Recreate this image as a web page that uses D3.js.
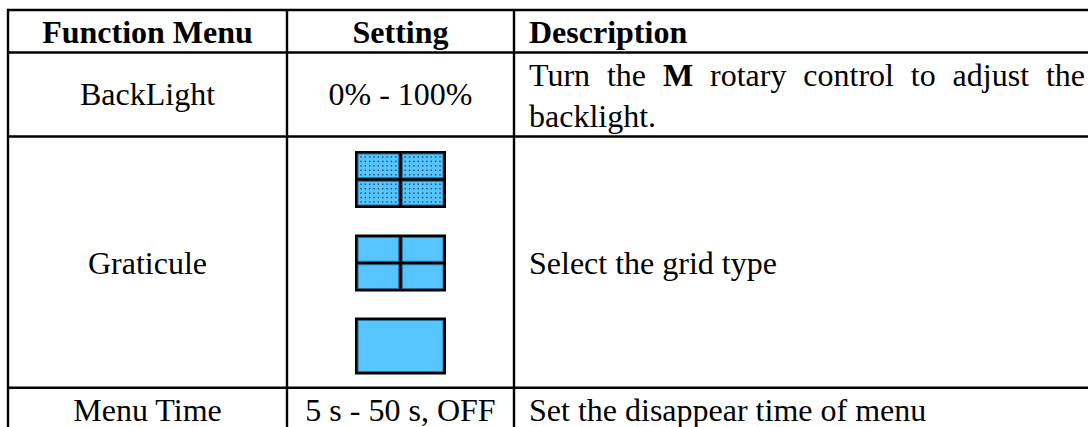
<!DOCTYPE html>
<html>
<head>
<meta charset="utf-8">
<script src="https://cdn.jsdelivr.net/npm/d3@7"></script>
<style>
html, body { margin: 0; padding: 0; background: #fff; }
svg { display: block; }
text { font-family: "Liberation Serif", serif; fill: #000; }
</style>
</head>
<body>
<svg id="drawing_region"></svg>
<script>
const headers = ["Function Menu", "Setting", "Description"];
const functionMenu = ["BackLight", "Graticule", "Menu Time"];
const settings = ["0% - 100%", "", "5 s - 50 s, OFF"];
const descFirst = [["Turn", false], ["the", false], ["M", true], ["rotary", false], ["control", false], ["to", false], ["adjust", false], ["the", false]];
const descRest = ["backlight.", "Select the grid type", "Set the disappear time of menu"];
const gridTypes = ["full", "lines", "none"];

const width = 1088, height = 427;
const fontSize = 32;
// table rules
const xs = [8, 287, 514];
const ys = [10, 52.5, 136.5, 387.8];

const svg = d3.select("#drawing_region").attr("width", width).attr("height", height);

const lines = svg.append("g").attr("stroke", "#000").attr("stroke-width", 2.4);
ys.forEach(y => lines.append("line").attr("x1", xs[0]-1).attr("x2", width).attr("y1", y).attr("y2", y));
xs.forEach(x => lines.append("line").attr("x1", x).attr("x2", x).attr("y1", ys[0]-1).attr("y2", height));

// header
const col1 = (xs[0]+xs[1])/2, col2 = (xs[1]+xs[2])/2, col3 = 529;
svg.append("g").selectAll("text").data(headers).enter().append("text")
    .attr("x", (d,i) => [col1, col2, col3][i])
    .attr("y", 42.5)
    .attr("text-anchor", (d,i) => i < 2 ? "middle" : "start")
    .attr("font-size", fontSize)
    .attr("font-weight", "bold")
    .text(d => d);

// body columns
const rowY = [105, 274, 421];
svg.append("g").selectAll("text").data(functionMenu).enter().append("text")
    .attr("x", col1).attr("y", (d,i) => rowY[i])
    .attr("text-anchor", "middle").attr("font-size", fontSize).text(d => d);
svg.append("g").selectAll("text").data(settings).enter().append("text")
    .attr("x", col2).attr("y", (d,i) => rowY[i])
    .attr("text-anchor", "middle").attr("font-size", fontSize).text(d => d);

// justified first line of the description, word by word
const first = svg.append("g").selectAll("text").data(descFirst).enter().append("text")
    .attr("y", 85.5)
    .attr("font-size", fontSize)
    .attr("font-weight", d => d[1] ? "bold" : "normal")
    .text(d => d[0]);
const wordW = first.nodes().map(n => n.getComputedTextLength());
const gap = (1085 - col3 - d3.sum(wordW)) / (wordW.length - 1);
let cursor = col3;
first.attr("x", (d,i) => { const x = cursor; cursor += wordW[i] + gap; return x; });

svg.append("g").selectAll("text").data(descRest).enter().append("text")
    .attr("x", col3).attr("y", (d,i) => [126.5, 274, 421][i])
    .attr("font-size", fontSize).text(d => d);

// grid type icons
const iconW = 91, iconH = 57, iconX = 355;
const iconTop = d3.scaleOrdinal().domain(gridTypes).range([151, 234.5, 317.5]);
const dotCols = d3.range(9), dotRows = d3.range(5);

function drawCell(g, x, y, w, h, dotted) {
    g.append("rect").attr("x", x+0.5).attr("y", y+0.5).attr("width", w-1).attr("height", h-1)
        .attr("fill", "#55c4ff").attr("stroke", "#2a6d96").attr("stroke-width", 1);
    if (!dotted) return;
    const dx = d3.scalePoint().domain(dotCols).range([x+3.5, x+w-3.5]);
    const dy = d3.scalePoint().domain(dotRows).range([y+3.5, y+h-3.5]);
    dotRows.forEach(r => dotCols.forEach(c => {
        g.append("rect").attr("x", dx(c)-0.7).attr("y", dy(r)-0.7).attr("width", 1.4).attr("height", 1.4)
            .attr("fill", "#1f4a68");
    }));
}

gridTypes.forEach(type => {
    const g = svg.append("g");
    const y0 = iconTop(type);
    g.append("rect").attr("x", iconX).attr("y", y0).attr("width", iconW).attr("height", iconH).attr("fill", "#000");
    const ix = iconX + 2.5, iy = y0 + 2.5, iw = iconW - 5, ih = iconH - 5;
    if (type === "none") {
        drawCell(g, ix, iy, iw, ih, false);
    } else {
        const cw = (iw - 2.5) / 2, ch = (ih - 2.5) / 2;
        [0, 1].forEach(i => [0, 1].forEach(j => {
            drawCell(g, ix + i*(cw+2.5), iy + j*(ch+2.5), cw, ch, type === "full");
        }));
    }
});
</script>
</body>
</html>
